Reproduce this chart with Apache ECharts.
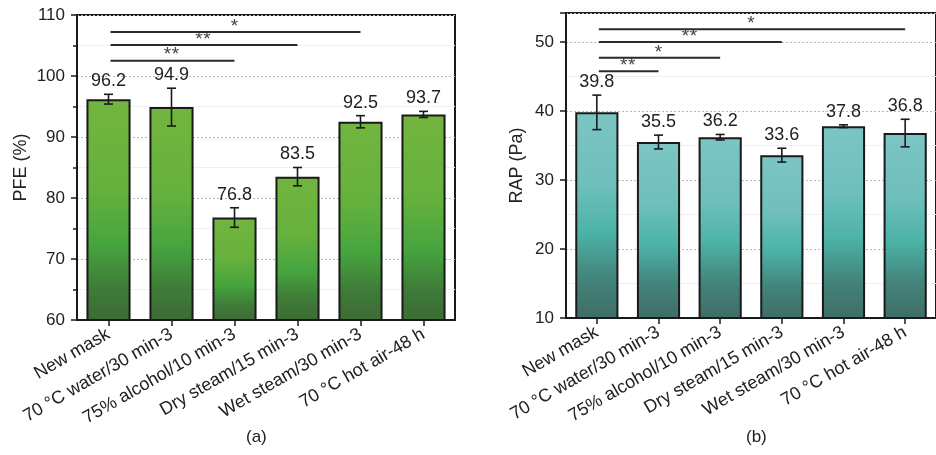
<!DOCTYPE html>
<html><head><meta charset="utf-8">
<script src="https://cdn.jsdelivr.net/npm/echarts@6/dist/echarts.min.js"></script>
<style>html,body{margin:0;padding:0;background:#fff}#c{width:936px;height:455px}</style>
</head><body><div id="c"></div>
<script>
const categories = ['New mask', '70 °C water/30 min-3', '75% alcohol/10 min-3', 'Dry steam/15 min-3', 'Wet steam/30 min-3', '70 °C hot air-48 h'];
const pfeValues = [96.2, 94.9, 76.8, 83.5, 92.5, 93.7];
const pfeErrors = [0.8, 3.1, 1.6, 1.5, 1.0, 0.5];
const rapValues = [39.8, 35.5, 36.2, 33.6, 37.8, 36.8];
const rapErrors = [2.5, 1.0, 0.4, 1.0, 0.2, 2.0];
const pfeTicks = [60, 70, 80, 90, 100, 110];
const rapTicks = [10, 20, 30, 40, 50];
// [fromIndex, toIndex, yValue, mark]
const pfeSig = [[0, 2, 102.5, '**'], [0, 3, 105.1, '**'], [0, 4, 107.2, '*']];
const rapSig = [[0, 1, 45.75, '**'], [0, 2, 47.7, '*'], [0, 3, 50.0, '**'], [0, 5, 51.85, '*']];

const FONT = '"Liberation Sans", Arial, sans-serif';
const chart = echarts.init(document.getElementById('c'));

const greenGrad = new echarts.graphic.LinearGradient(0, 0, 0, 1, [
  {offset: 0, color: '#72b53f'}, {offset: 0.4, color: '#66b13d'},
  {offset: 0.65, color: '#46a53f'}, {offset: 0.85, color: '#3f7b38'}, {offset: 1, color: '#3d6b35'}]);
const tealGrad = new echarts.graphic.LinearGradient(0, 0, 0, 1, [
  {offset: 0, color: '#7cc5c4'}, {offset: 0.35, color: '#6fbfbd'},
  {offset: 0.58, color: '#4cb3a7'}, {offset: 0.8, color: '#43847b'}, {offset: 1, color: '#3f6d66'}]);

function yAxisCfg(gridIndex, min, max, ticks, name, minor, gap) {
  return {
    type: 'value', gridIndex, min, max, interval: 10, name,
    nameLocation: 'middle', nameGap: gap,
    nameTextStyle: {fontSize: 18, color: '#222', fontFamily: FONT},
    axisLine: {show: true, lineStyle: {color: '#1a1a1a', width: 2}},
    axisTick: {show: true, inside: false, length: 6, lineStyle: {color: '#1a1a1a', width: 1.5}},
    minorTick: {show: minor, splitNumber: 2, length: 4, lineStyle: {color: '#1a1a1a', width: 1.5}},
    axisLabel: {fontSize: 17, color: '#222', margin: 12, fontFamily: FONT,
      formatter: v => ticks.indexOf(v) >= 0 ? String(v) : ''},
    splitLine: {show: true, lineStyle: {color: '#b8b8b8', width: 1, type: [2, 2]}},
    minorSplitLine: {show: true, lineStyle: {color: '#f0f0f0', width: 1}}
  };
}
function xAxisCfg(gridIndex) {
  return {
    type: 'category', gridIndex, data: categories,
    axisLine: {show: true, lineStyle: {color: '#1a1a1a', width: 2}},
    axisTick: {show: true, alignWithLabel: true, length: 6, lineStyle: {color: '#1a1a1a', width: 1.5}},
    axisLabel: {rotate: 30, fontSize: 18, color: '#222', margin: 13, interval: 0, fontFamily: FONT}
  };
}
function errSeries(idx, vals, errs) {
  return {
    type: 'custom', xAxisIndex: idx, yAxisIndex: idx, z: 5,
    data: vals.map((v, i) => [i, v, errs[i]]),
    encode: {x: 0, y: 1},
    renderItem: (params, api) => {
      const x = api.value(0), v = api.value(1), e = api.value(2);
      const t = api.coord([x, v + e]), b = api.coord([x, v - e]);
      const w = 4.5, st = {stroke: '#1a1a1a', lineWidth: 1.6};
      return {type: 'group', children: [
        {type: 'line', shape: {x1: t[0], y1: t[1], x2: b[0], y2: b[1]}, style: st},
        {type: 'line', shape: {x1: t[0] - w, y1: t[1], x2: t[0] + w, y2: t[1]}, style: st},
        {type: 'line', shape: {x1: b[0] - w, y1: b[1], x2: b[0] + w, y2: b[1]}, style: st},
        {type: 'text', x: t[0], y: t[1] - 4, style: {text: v.toFixed(1), fill: '#222', font: '18px ' + FONT, align: 'center', verticalAlign: 'bottom'}}
      ]};
    }
  };
}
function sigSeries(idx, sig) {
  return {
    type: 'custom', xAxisIndex: idx, yAxisIndex: idx, z: 6,
    data: sig.map(s => [s[0], s[1], s[2]]),
    encode: {x: [0, 1], y: 2},
    renderItem: (params, api) => {
      const d = sig[params.dataIndex];
      const p1 = api.coord([d[0], d[2]]), p2 = api.coord([d[1], d[2]]);
      const mid = (p1[0] + p2[0]) / 2, n = d[3].length;
      const children = [
        {type: 'line', shape: {x1: p1[0] + 2, y1: p1[1], x2: p2[0], y2: p2[1]}, style: {stroke: '#2a2a2a', lineWidth: 2}}
      ];
      for (let k = 0; k < n; k++) {
        children.push({type: 'text', x: mid + (k - (n - 1) / 2) * 8, y: p1[1] + 4, style: {text: '*', fill: '#444', font: '19px ' + FONT, align: 'center', verticalAlign: 'bottom'}});
      }
      return {type: 'group', children};
    }
  };
}

chart.setOption({
  animation: false,
  textStyle: {fontFamily: FONT},
  grid: [
    {left: 77, top: 15, width: 378, height: 305, show: true, borderColor: '#1a1a1a', borderWidth: 2, backgroundColor: 'transparent'},
    {left: 566, top: 13, width: 378, height: 305, show: true, borderColor: '#1a1a1a', borderWidth: 2, backgroundColor: 'transparent'}
  ],
  xAxis: [xAxisCfg(0), xAxisCfg(1)],
  yAxis: [yAxisCfg(0, 60, 110, pfeTicks, 'PFE (%)', true, 47), yAxisCfg(1, 10, 54.2, rapTicks, 'RAP (Pa)', false, 40)],
  series: [
    {type: 'bar', xAxisIndex: 0, yAxisIndex: 0, data: pfeValues, barWidth: '70%',
      itemStyle: {color: greenGrad, borderColor: '#1a1a1a', borderWidth: 2}},
    errSeries(0, pfeValues, pfeErrors),
    sigSeries(0, pfeSig),
    {type: 'bar', xAxisIndex: 1, yAxisIndex: 1, data: rapValues, barWidth: '70%',
      itemStyle: {color: tealGrad, borderColor: '#1a1a1a', borderWidth: 2}},
    errSeries(1, rapValues, rapErrors),
    sigSeries(1, rapSig)
  ],
  graphic: [
    {type: 'text', left: 246, top: 429, style: {text: '(a)', font: '17px ' + FONT, fill: '#222'}},
    {type: 'text', left: 746, top: 429, style: {text: '(b)', font: '17px ' + FONT, fill: '#222'}}
  ]
});
</script></body></html>
